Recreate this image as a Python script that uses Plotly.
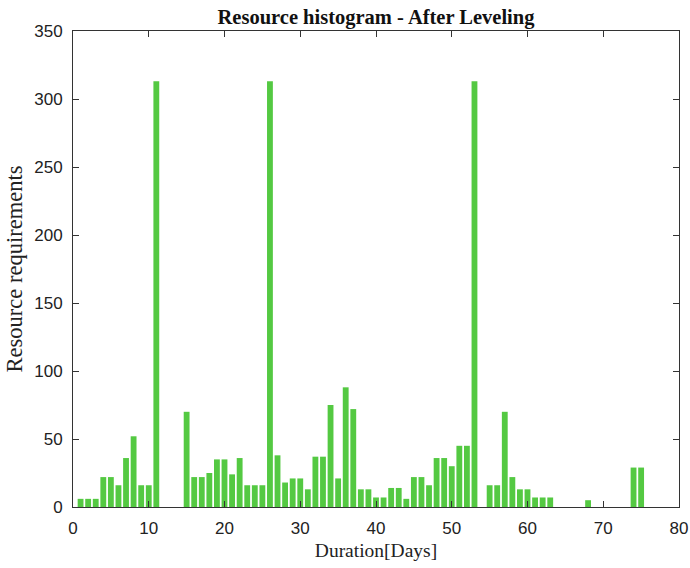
import plotly.graph_objects as go

days = list(range(1, 76))
resources = [
    6, 6, 6, 22, 22, 16, 36, 52, 16, 16,
    313, 0, 0, 0, 70, 22, 22, 25, 35, 35,
    24, 36, 16, 16, 16, 313, 38, 18, 21, 21,
    13, 37, 37, 75, 21, 88, 72, 13, 13, 7,
    7, 14, 14, 6, 22, 22, 16, 36, 36, 30,
    45, 45, 313, 0, 16, 16, 70, 22, 13, 13,
    7, 7, 7, 0, 0, 0, 0, 5, 0, 0,
    0, 0, 0, 29, 29,
]
x_ticks = [0, 10, 20, 30, 40, 50, 60, 70, 80]
y_ticks = [0, 50, 100, 150, 200, 250, 300, 350]

fig = go.Figure(go.Bar(
    x=days, y=resources, width=0.77,
    marker=dict(color="rgb(84,201,66)", line=dict(width=0)),
))

axis_common = dict(
    showline=True, linecolor="#333", linewidth=1, mirror="ticks",
    ticks="inside", ticklen=6, tickcolor="#333", showgrid=False, zeroline=False,
    automargin=False,
    tickfont=dict(family="Liberation Sans, Arial", size=17, color="#222"),
)
fig.update_layout(
    width=690, height=568,
    margin=dict(l=73, r=11, t=31, b=61),
    plot_bgcolor="white", paper_bgcolor="white",
    showlegend=False,
    title=dict(text="<b>Resource histogram - After Leveling</b>",
               x=0.5, xanchor="center", xref="paper", y=1 - 17 / 568, yref="container",
               yanchor="middle",
               font=dict(family="Liberation Serif, Times New Roman", size=20.5, color="#111")),
    xaxis=dict(range=[0, 80], tickvals=x_ticks, ticklabelstandoff=6, **axis_common,
               title=dict(text="Duration[Days]", standoff=5,
                          font=dict(family="Liberation Serif, Times New Roman", size=19.5, color="#222"))),
    yaxis=dict(range=[0, 350], tickvals=y_ticks, ticklabelstandoff=6, **axis_common,
               title=dict(text="Resource requirements", standoff=5,
                          font=dict(family="Liberation Serif, Times New Roman", size=22.5, color="#222"))),
)
fig.write_html("out.html")
